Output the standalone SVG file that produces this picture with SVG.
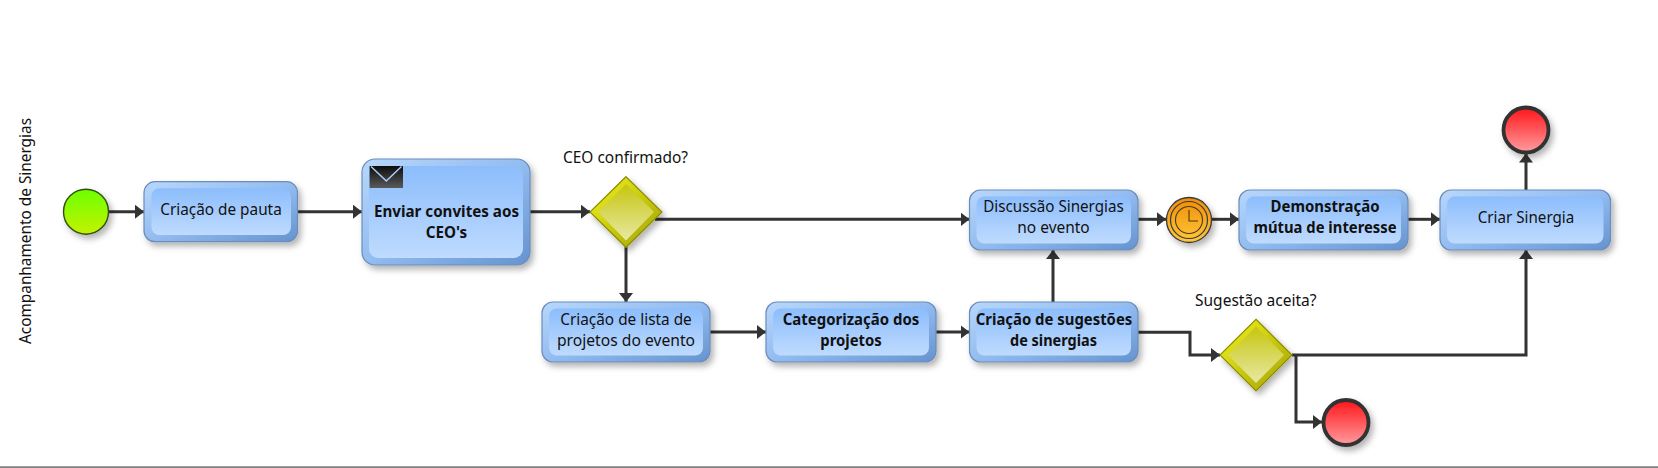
<svg xmlns="http://www.w3.org/2000/svg" width="1658" height="468" viewBox="0 0 1658 468">
<style>
text{font-family:"Noto Sans","Open Sans","Liberation Sans",sans-serif;font-size:16.5px;fill:#111;text-anchor:middle}
.b{font-weight:700}
.l{text-anchor:start}
.outer{fill:url(#go);stroke:#6a8dbb;stroke-width:1.2}
.inner{fill:url(#gi)}
.sh{filter:url(#shadow)}
.c{fill:none;stroke:#333;stroke-width:3;stroke-linejoin:miter;marker-end:url(#arr)}
.end{fill:url(#gr);stroke:#333;stroke-width:3.8}
.go{fill:url(#gy);stroke:#8e8e00;stroke-width:1.2}
.gi{fill:url(#gyi)}
</style>
<defs>
<filter id="shadow" x="-20%" y="-20%" width="145%" height="150%"><feDropShadow dx="3" dy="4" stdDeviation="3" flood-color="#000" flood-opacity=".3"/></filter>
<linearGradient id="go" x1="0" y1="0" x2="1" y2="1"><stop offset="0" stop-color="#b8d7fb"/><stop offset=".5" stop-color="#93bcf0"/><stop offset="1" stop-color="#6593ce"/></linearGradient>
<linearGradient id="gi" x1="0" y1="0" x2="0" y2="1"><stop offset="0" stop-color="#8cbdfc"/><stop offset="1" stop-color="#bfdbfe"/></linearGradient>
<linearGradient id="gs" x1="0" y1="0" x2="0" y2="1"><stop offset="0" stop-color="#6cff00"/><stop offset="1" stop-color="#c4f200"/></linearGradient>
<linearGradient id="gr" x1="0" y1="0" x2="0" y2="1"><stop offset="0" stop-color="#ff1418"/><stop offset="1" stop-color="#ff9da0"/></linearGradient>
<linearGradient id="gy" x1="0" y1="0" x2="1" y2="1"><stop offset="0" stop-color="#f4f420"/><stop offset="1" stop-color="#a0a000"/></linearGradient>
<linearGradient id="gyi" x1="0" y1="0" x2="0" y2="1"><stop offset="0" stop-color="#c6c60e"/><stop offset="1" stop-color="#e8e8a4"/></linearGradient>
<linearGradient id="gt" x1="0" y1="0" x2="0" y2="1"><stop offset="0" stop-color="#f08c08"/><stop offset="1" stop-color="#ffc83c"/></linearGradient>
<linearGradient id="gm" x1="0" y1="0" x2="0" y2="1"><stop offset="0" stop-color="#0c0c0c"/><stop offset="1" stop-color="#5a5a5a"/></linearGradient>
<marker id="arr" markerUnits="userSpaceOnUse" markerWidth="9" markerHeight="14" refX="9" refY="7" orient="auto"><path d="M0 0L9 7L0 14z" fill="#333"/></marker>
</defs>

<g id="frame"><line x1="0" y1="467.2" x2="1658" y2="467.2" stroke="#808080" stroke-width="1.8"/></g>
<g id="pool-label"><text transform="translate(31 231) rotate(-90)" textLength="226" lengthAdjust="spacingAndGlyphs">Acompanhamento de Sinergias</text></g>

<g id="connectors">
<path class="c" d="M108.600 211.700H144"/>
<path class="c" d="M297.500 211.700H362"/>
<path class="c" d="M530 211.700H590"/>
<path class="c" d="M655 219.300H969.500"/>
<path class="c" d="M626 247V302"/>
<path class="c" d="M710 332H766"/>
<path class="c" d="M936 332H969.500"/>
<path class="c" d="M1053 302V250"/>
<path class="c" d="M1138 219.300H1166"/>
<path class="c" d="M1212 219.300H1239"/>
<path class="c" d="M1408 219.300H1440"/>
<path class="c" d="M1526 190V153.500"/>
<path class="c" d="M1138 332.300H1190V355H1220"/>
<path class="c" d="M1292 355H1526V250"/>
<path class="c" d="M1296 355V422H1322"/>
</g>

<g id="start"><circle class="sh" cx="86" cy="211.700" r="22.500" fill="url(#gs)" stroke="#2f4f10" stroke-width="1.400"/></g>

<g id="task-pauta"><rect class="outer sh" x="144" y="181.700" width="153.500" height="60" rx="11"/><rect class="inner" x="151.400" y="188.300" width="139.600" height="46.700" rx="8"/><text x="221" y="215" textLength="121.500" lengthAdjust="spacingAndGlyphs">Criação de pauta</text></g>

<g id="task-convites"><rect class="outer sh" x="362" y="159" width="168" height="106" rx="13"/><rect class="inner" x="369" y="166" width="154" height="92" rx="9"/>
<g id="envelope"><rect x="369.600" y="166" width="33.400" height="22" fill="url(#gm)"/><path d="M371 166.500L386.300 181L401.500 166.500" fill="none" stroke="#a9cdf7" stroke-width="1.500"/></g>
<text class="b" x="446.500" y="217" textLength="145" lengthAdjust="spacingAndGlyphs">Enviar convites aos</text><text class="b" x="446.500" y="238" textLength="41.500" lengthAdjust="spacingAndGlyphs">CEO's</text></g>

<g id="gateway-ceo"><path class="go sh" d="M626 176.700L662 212L626 247.300L590 212z"/><path class="gi" d="M626 184L654 212L626 240.500L598 212z"/></g>
<g id="label-ceo"><text class="l" x="563" y="163" textLength="125" lengthAdjust="spacingAndGlyphs">CEO confirmado?</text></g>

<g id="task-lista"><rect class="outer sh" x="542" y="302" width="168" height="60" rx="11"/><rect class="inner" x="549" y="308.500" width="154" height="47" rx="8"/><text x="626" y="325" textLength="131.500" lengthAdjust="spacingAndGlyphs">Criação de lista de</text><text x="626" y="346" textLength="138" lengthAdjust="spacingAndGlyphs">projetos do evento</text></g>

<g id="task-categorizacao"><rect class="outer sh" x="766" y="302" width="170" height="60" rx="11"/><rect class="inner" x="773" y="308.500" width="156" height="47" rx="8"/><text class="b" x="851" y="325" textLength="136.500" lengthAdjust="spacingAndGlyphs">Categorização dos</text><text class="b" x="851" y="346" textLength="61.500" lengthAdjust="spacingAndGlyphs">projetos</text></g>

<g id="task-sugestoes"><rect class="outer sh" x="969.500" y="302" width="168.500" height="60" rx="11"/><rect class="inner" x="976.500" y="308.500" width="154.500" height="47" rx="8"/><text class="b" x="1054" y="325" textLength="156.500" lengthAdjust="spacingAndGlyphs">Criação de sugestões</text><text class="b" x="1053.500" y="346" textLength="87" lengthAdjust="spacingAndGlyphs">de sinergias</text></g>

<g id="task-discussao"><rect class="outer sh" x="969.500" y="190" width="168.500" height="60" rx="11"/><rect class="inner" x="976.500" y="196.500" width="154.500" height="47" rx="8"/><text x="1053.500" y="212" textLength="140.500" lengthAdjust="spacingAndGlyphs">Discussão Sinergias</text><text x="1053.500" y="233" textLength="72.500" lengthAdjust="spacingAndGlyphs">no evento</text></g>

<g id="timer"><circle class="sh" cx="1189" cy="220" r="22.500" fill="url(#gt)" stroke="#3a3a3a" stroke-width="1.300"/><circle cx="1189" cy="220" r="18.500" fill="none" stroke="#3a3a3a" stroke-width="1.200"/><circle cx="1189" cy="220" r="13.500" fill="none" stroke="#4a3a10" stroke-width="1.100"/><path d="M1189 210V221H1198" fill="none" stroke="#4a3a10" stroke-width="1.100"/></g>

<g id="task-demonstracao"><rect class="outer sh" x="1239" y="190" width="169" height="60" rx="11"/><rect class="inner" x="1246" y="196.500" width="155" height="47" rx="8"/><text class="b" x="1325" y="212" textLength="109" lengthAdjust="spacingAndGlyphs">Demonstração</text><text class="b" x="1325" y="233" textLength="143" lengthAdjust="spacingAndGlyphs">mútua de interesse</text></g>

<g id="task-criar"><rect class="outer sh" x="1440" y="190" width="170.500" height="60" rx="11"/><rect class="inner" x="1447" y="196.500" width="156.500" height="47" rx="8"/><text x="1526" y="222.700" textLength="96.500" lengthAdjust="spacingAndGlyphs">Criar Sinergia</text></g>

<g id="end-top"><circle class="end sh" cx="1526" cy="130" r="22.500"/></g>

<g id="gateway-sugestao"><path class="go sh" d="M1256 319.300L1292 355L1256 391L1220 355z"/><path class="gi" d="M1256 326.500L1284 355L1256 383L1228 355z"/></g>
<g id="label-sugestao"><text class="l" x="1195" y="306" textLength="121.500" lengthAdjust="spacingAndGlyphs">Sugestão aceita?</text></g>

<g id="end-bottom"><circle class="end sh" cx="1346" cy="422.500" r="22.500"/></g>
</svg>
